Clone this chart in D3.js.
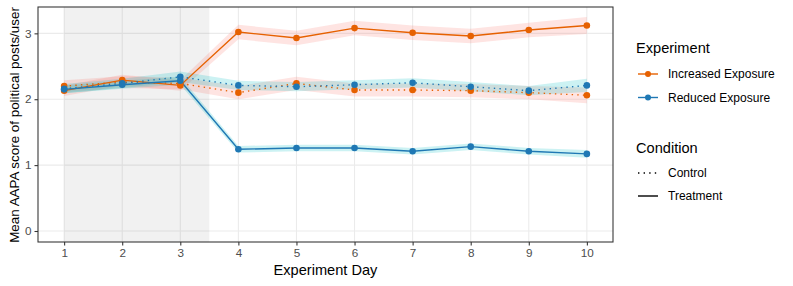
<!DOCTYPE html>
<html><head><meta charset="utf-8">
<script src="https://cdn.jsdelivr.net/npm/d3@7"></script>
<style>body{margin:0;background:#fff}svg{display:block;font-family:"Liberation Sans",Arial,sans-serif}</style>
</head><body><svg id="c" width="793" height="286"></svg>
<script>
const days = [1,2,3,4,5,6,7,8,9,10];
const yTicks = [0,1,2,3];
const incTreatment = [2.13,2.29,2.21,3.02,2.93,3.08,3.01,2.96,3.05,3.12];
const incTreatmentSE = [0.08,0.08,0.08,0.11,0.11,0.11,0.11,0.11,0.11,0.13];
const incControl = [2.20,2.26,2.24,2.10,2.24,2.14,2.14,2.13,2.10,2.06];
const incControlSE = [0.09,0.09,0.09,0.10,0.10,0.10,0.10,0.10,0.10,0.12];
const redTreatment = [2.15,2.22,2.28,1.24,1.26,1.26,1.21,1.28,1.21,1.17];
const redTreatmentSE = [0.06,0.06,0.06,0.05,0.05,0.05,0.05,0.05,0.05,0.06];
const redControl = [2.16,2.24,2.34,2.21,2.19,2.22,2.25,2.19,2.13,2.21];
const redControlSE = [0.07,0.07,0.08,0.07,0.07,0.07,0.07,0.07,0.07,0.10];
const experiments = ["Increased Exposure","Reduced Exposure"];
const conditions = ["Control","Treatment"];
const lineColors = {"Increased Exposure":"#E66101","Reduced Exposure":"#1F78B4"};
const ribbonColors = {"Increased Exposure":"#F8766D","Reduced Exposure":"#00BFC4"};

const series = [
  {exp:"Increased Exposure", cond:"Control", v:incControl, se:incControlSE},
  {exp:"Increased Exposure", cond:"Treatment", v:incTreatment, se:incTreatmentSE},
  {exp:"Reduced Exposure", cond:"Control", v:redControl, se:redControlSE},
  {exp:"Reduced Exposure", cond:"Treatment", v:redTreatment, se:redTreatmentSE}
];

const svg = d3.select("#c");
const L=38, R=613, T=7, B=242;
const x = d3.scaleLinear().domain([0.55,10.45]).range([L,R]);
const y = d3.scaleLinear().domain([-0.167,3.40]).range([B,T]);

// grid
const g = svg.append("g");
g.selectAll(".gx").data(days).join("line").attr("x1",d=>x(d)).attr("x2",d=>x(d)).attr("y1",T).attr("y2",B).attr("stroke","#EBEBEB").attr("stroke-width",1.07);
g.selectAll(".gy").data(yTicks).join("line").attr("x1",L).attr("x2",R).attr("y1",d=>y(d)).attr("y2",d=>y(d)).attr("stroke","#EBEBEB").attr("stroke-width",1.07);

// pre-treatment shaded region
svg.append("rect").attr("x",x(1)).attr("width",x(3.5)-x(1)).attr("y",T).attr("height",B-T).attr("fill","#000").attr("opacity",0.055);

const area = d3.area().x((d,i)=>x(days[i])).y0(d=>y(d[0]-d[1])).y1(d=>y(d[0]+d[1]));
const line = d3.line().x((d,i)=>x(days[i])).y(d=>y(d));

series.forEach(s=>{
  svg.append("path").datum(s.v.map((v,i)=>[v,s.se[i]])).attr("d",area).attr("fill",ribbonColors[s.exp]).attr("opacity",0.2);
});
series.forEach(s=>{
  svg.append("path").datum(s.v).attr("d",line).attr("fill","none").attr("stroke",lineColors[s.exp]).attr("stroke-width",1.4)
    .attr("stroke-dasharray",s.cond==="Control"?"1.4,4.2":null);
});
series.forEach(s=>{
  svg.selectAll(null).data(s.v).join("circle").attr("cx",(d,i)=>x(days[i])).attr("cy",d=>y(d)).attr("r",3.3).attr("fill",lineColors[s.exp]);
});

// panel border
svg.append("rect").attr("x",L).attr("y",T).attr("width",R-L).attr("height",B-T).attr("fill","none").attr("stroke","#333333").attr("stroke-width",1.07);

// axes
const xa = svg.append("g").attr("transform",`translate(0,${B})`).call(d3.axisBottom(x).tickValues(days).tickSize(3.5).tickPadding(3).tickFormat(d3.format("d")));
const ya = svg.append("g").attr("transform",`translate(${L},0)`).call(d3.axisLeft(y).tickValues(yTicks).tickSize(3.5).tickPadding(3).tickFormat(d3.format("d")));
[xa,ya].forEach(a=>{a.select(".domain").remove();a.selectAll(".tick line").attr("stroke","#333333").attr("stroke-width",1.07);a.selectAll(".tick text").attr("fill","#4D4D4D").style("font-size","11.7px").style("font-family","Liberation Sans, Arial, sans-serif");});

svg.append("text").attr("x",(L+R)/2).attr("y",275).attr("text-anchor","middle").style("font-size","14.6px").text("Experiment Day");
svg.append("text").attr("transform",`translate(19,125) rotate(-90)`).attr("text-anchor","middle").style("font-size","13.4px").text("Mean AAPA score of political posts/user");

// legend
const lg = svg.append("g");
lg.append("text").attr("x",636).attr("y",53).style("font-size","14.6px").text("Experiment");
experiments.forEach((e,i)=>{
  const yy = 74 + i*23.5;
  lg.append("line").attr("x1",638).attr("x2",658).attr("y1",yy).attr("y2",yy).attr("stroke",lineColors[e]).attr("stroke-width",1.4);
  lg.append("circle").attr("cx",648).attr("cy",yy).attr("r",3).attr("fill",lineColors[e]);
  lg.append("text").attr("x",668).attr("y",yy+4.2).style("font-size","12px").text(e);
});
lg.append("text").attr("x",636).attr("y",153).style("font-size","14.6px").text("Condition");
conditions.forEach((c,i)=>{
  const yy = 173 + i*23;
  lg.append("line").attr("x1",638).attr("x2",658).attr("y1",yy).attr("y2",yy).attr("stroke","#000").attr("stroke-width",1.4)
    .attr("stroke-dasharray",c==="Control"?"1.4,4.2":null);
  lg.append("text").attr("x",668).attr("y",yy+4.2).style("font-size","12px").text(c);
});
</script></body></html>
